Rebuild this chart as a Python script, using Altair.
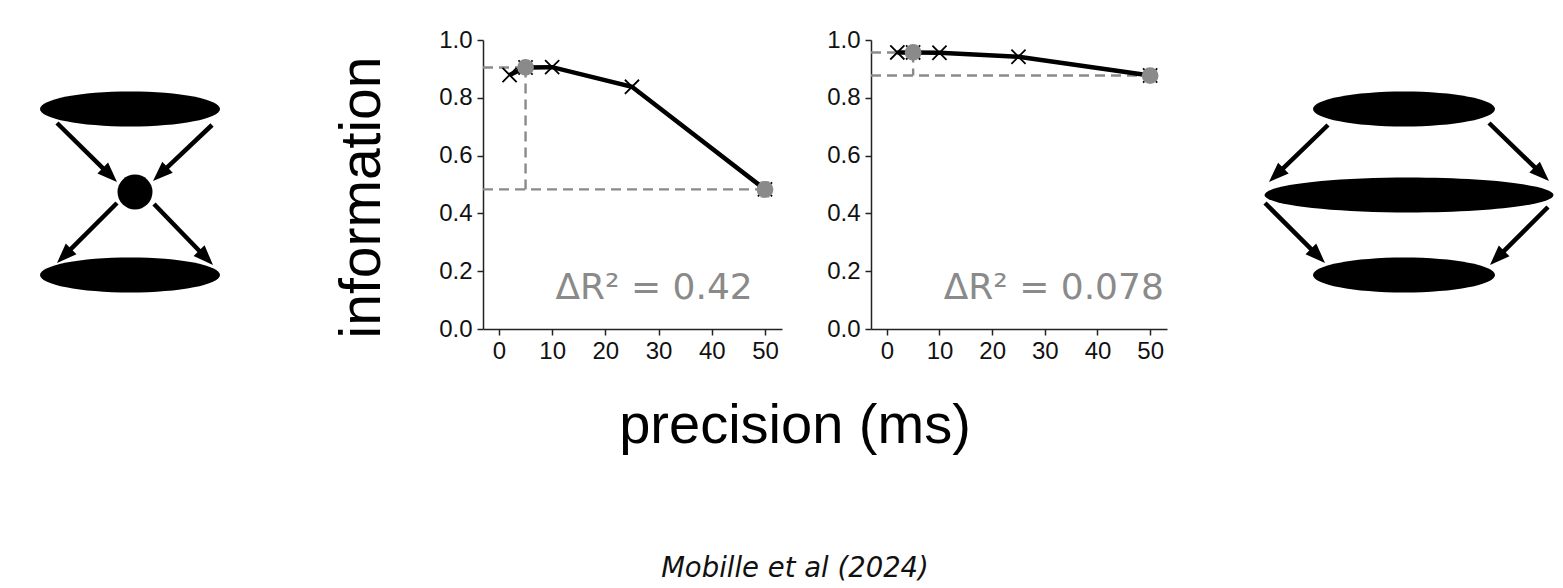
import math
import altair as alt
import pandas as pd

# ---------------- data ----------------
precision_ms = [2, 5, 10, 25, 50]
info_left = [0.879, 0.905, 0.906, 0.838, 0.483]     # bottleneck network
info_right = [0.957, 0.957, 0.956, 0.942, 0.877]    # wide network
highlight_ms = [5, 50]
err_left = [0.02, 0.025]
err_right = [0.02, 0.015]
delta_labels = ["ΔR² = 0.42", "ΔR² = 0.078"]
x_ticks = [0, 10, 20, 30, 40, 50]
y_ticks = [0.0, 0.2, 0.4, 0.6, 0.8, 1.0]

# diagram geometry (diagram units)
left_ellipse_cx = [122, 122]
left_ellipse_cy = [69, 235]
left_node_cx = [127]
left_node_cy = [152]
left_arrow_x1 = [49, 204, 109, 146]
left_arrow_y1 = [83, 85, 163, 164]
left_arrow_x2 = [109, 145, 49, 205]
left_arrow_y2 = [142, 141, 223, 225]

right_ellipse_cx = [193, 193]
right_ellipse_cy = [69, 235]
right_wide_cx = [198]
right_wide_cy = [155]
right_arrow_x1 = [117, 278, 54, 337]
right_arrow_y1 = [85, 83, 163, 167]
right_arrow_x2 = [58, 338, 114, 279]
right_arrow_y2 = [142, 141, 223, 225]

GRAY = "#8a8a8a"
XMIN, XMAX = -3, 53.2
FONT = "Liberation Sans"


def ellipse_path(ratio):
    k = 0.5523
    r = ratio
    return (f"M -1 0 C -1 {-k*r:.4f} {-k:.4f} {-r:.4f} 0 {-r:.4f} "
            f"C {k:.4f} {-r:.4f} 1 {-k*r:.4f} 1 0 "
            f"C 1 {k*r:.4f} {k:.4f} {r:.4f} 0 {r:.4f} "
            f"C {-k:.4f} {r:.4f} -1 {k*r:.4f} -1 0 Z")


CROSS = "M -1 -1 L 1 1 M -1 1 L 1 -1"
HEAD = "M 0 0 L 0.38 1 L -0.38 1 Z"


def panel(values, errs, label, label_x, width, show_title):
    df = pd.DataFrame({"ms": precision_ms, "info": values})
    hl = df[df["ms"].isin(highlight_ms)].copy()
    hl["lo"] = hl["info"] - errs
    hl["hi"] = hl["info"] + errs
    peak = values[precision_ms.index(highlight_ms[0])]
    last = values[precision_ms.index(highlight_ms[1])]
    guides = pd.DataFrame({
        "x1": [XMIN, highlight_ms[0], XMIN],
        "x2": [highlight_ms[0], highlight_ms[0], highlight_ms[1]],
        "y1": [peak, peak, last],
        "y2": [peak, last, last],
    })
    ann = pd.DataFrame({"ax": [label_x], "ay": [0.105], "t": [label]})

    xscale = alt.Scale(domain=[XMIN, XMAX], nice=False, zero=False)
    yscale = alt.Scale(domain=[0, 1], nice=False)
    xaxis = alt.Axis(values=x_ticks, title=None, grid=False, format="d",
                     domainColor="#222", domainWidth=1.5, tickColor="#222",
                     tickWidth=1.5, tickSize=6, labelFont=FONT, labelFontSize=24,
                     labelColor="#111", labelPadding=4)
    yargs = dict(values=y_ticks, format=".1f", grid=False,
                 domainColor="#222", domainWidth=1.5, tickColor="#222",
                 tickWidth=1.5, tickSize=6, labelFont=FONT, labelFontSize=24,
                 labelColor="#111", labelPadding=5)
    if show_title:
        yaxis = alt.Axis(title="information", titleFont=FONT, titleFontSize=57,
                         titleFontWeight="normal", titleColor="#000",
                         titlePadding=47, titleY=157, **yargs)
    else:
        yaxis = alt.Axis(title=None, **yargs)

    def X(f):
        return alt.X(f, type="quantitative", scale=xscale, axis=xaxis)

    def Y(f):
        return alt.Y(f, type="quantitative", scale=yscale, axis=yaxis)

    g = alt.Chart(guides).mark_rule(color=GRAY, strokeWidth=2.4, strokeDash=[10, 6]).encode(
        x=X("x1"), x2="x2", y=Y("y1"), y2="y2")
    line = alt.Chart(df).mark_line(color="#000", strokeWidth=4.5).encode(
        x=X("ms"), y=Y("info"))
    crosses = alt.Chart(df).mark_point(shape=CROSS, filled=False, color="#000",
                                       strokeWidth=1.8, size=200, opacity=1).encode(
        x=X("ms"), y=Y("info"))
    eb = alt.Chart(hl).mark_errorbar(color=GRAY, thickness=2,
                                     ticks=alt.TickConfig(size=9, thickness=2)).encode(
        x=X("ms"), y=Y("lo"), y2="hi")
    dots = alt.Chart(hl).mark_point(shape="circle", filled=True, color=GRAY,
                                    size=280, opacity=1).encode(
        x=X("ms"), y=Y("info"))
    txt = alt.Chart(ann).mark_text(align="right", baseline="alphabetic", font="DejaVu Sans",
                                   fontSize=36, color=GRAY).encode(
        x=X("ax"), y=Y("ay"), text="t:N")
    return alt.layer(g, line, crosses, eb, dots, txt).properties(width=width, height=289)


def diagram(w, h, ellipses, arrows):
    xs = alt.Scale(domain=[0, w], nice=False, zero=False)
    ys = alt.Scale(domain=[0, h], nice=False, zero=False, reverse=True)
    layers = []
    for (cx, cy, ew, eh, kind) in ellipses:
        d = pd.DataFrame({"cx": cx, "cy": cy})
        if kind == "circle":
            m = alt.Chart(d).mark_point(shape="circle", filled=True, color="#000",
                                        size=ew * ew, opacity=1)
        else:
            m = alt.Chart(d).mark_point(shape=ellipse_path(eh / ew), filled=True,
                                        color="#000", size=ew * ew, opacity=1)
        layers.append(m.encode(x=alt.X("cx:Q", scale=xs, axis=None),
                               y=alt.Y("cy:Q", scale=ys, axis=None)))
    x1, y1, x2, y2 = arrows
    head = 20
    rows = []
    for a, b, c, e in zip(x1, y1, x2, y2):
        dx, dy = c - a, e - b
        L = math.hypot(dx, dy)
        ang = math.degrees(math.atan2(dx, -dy)) % 360
        rows.append({"x1": a, "y1": b, "tx": c, "ty": e,
                     "ex": c - dx / L * head * 0.8, "ey": e - dy / L * head * 0.8,
                     "ang": ang})
    ad = pd.DataFrame(rows)
    shaft = alt.Chart(ad).mark_rule(color="#000", strokeWidth=4.5).encode(
        x=alt.X("x1:Q", scale=xs, axis=None), x2="ex",
        y=alt.Y("y1:Q", scale=ys, axis=None), y2="ey")
    heads = alt.Chart(ad).mark_point(shape=HEAD, filled=True, color="#000",
                                     size=(2 * head) ** 2, opacity=1).encode(
        x=alt.X("tx:Q", scale=xs, axis=None), y=alt.Y("ty:Q", scale=ys, axis=None),
        angle=alt.Angle("ang:Q", scale=None))
    layers += [shaft, heads]
    return alt.layer(*layers).properties(width=w, height=h)


left = diagram(281, 280,
               [(left_ellipse_cx, left_ellipse_cy, 180, 35, "ellipse"),
                (left_node_cx, left_node_cy, 35, 35, "circle")],
               (left_arrow_x1, left_arrow_y1, left_arrow_x2, left_arrow_y2))
right = diagram(343, 280,
                [(right_ellipse_cx, right_ellipse_cy, 182, 35, "ellipse"),
                 (right_wide_cx, right_wide_cy, 289, 35, "ellipse")],
                (right_arrow_x1, right_arrow_y1, right_arrow_x2, right_arrow_y2))

p1 = panel(info_left, err_left, delta_labels[0], 47.7, 299, True)
p2 = panel(info_right, err_right, delta_labels[1], 52.6, 296, False)

chart = alt.hconcat(left, p1, p2, right, spacing=44).properties(
    title=alt.TitleParams(
        text="precision (ms)", orient="bottom", anchor="middle",
        font=FONT, fontSize=56, fontWeight="normal", color="#000",
        offset=36, dx=14,
        subtitle="Mobille et al (2024)", subtitleFont="DejaVu Sans",
        subtitleFontSize=27.5, subtitleFontStyle="italic", subtitleColor="#111",
        subtitlePadding=100),
    padding={"left": 0, "top": 20, "right": 0, "bottom": 12},
).configure_view(stroke=None)

chart.save("out.html", embed_options={"renderer": "svg", "actions": False})
